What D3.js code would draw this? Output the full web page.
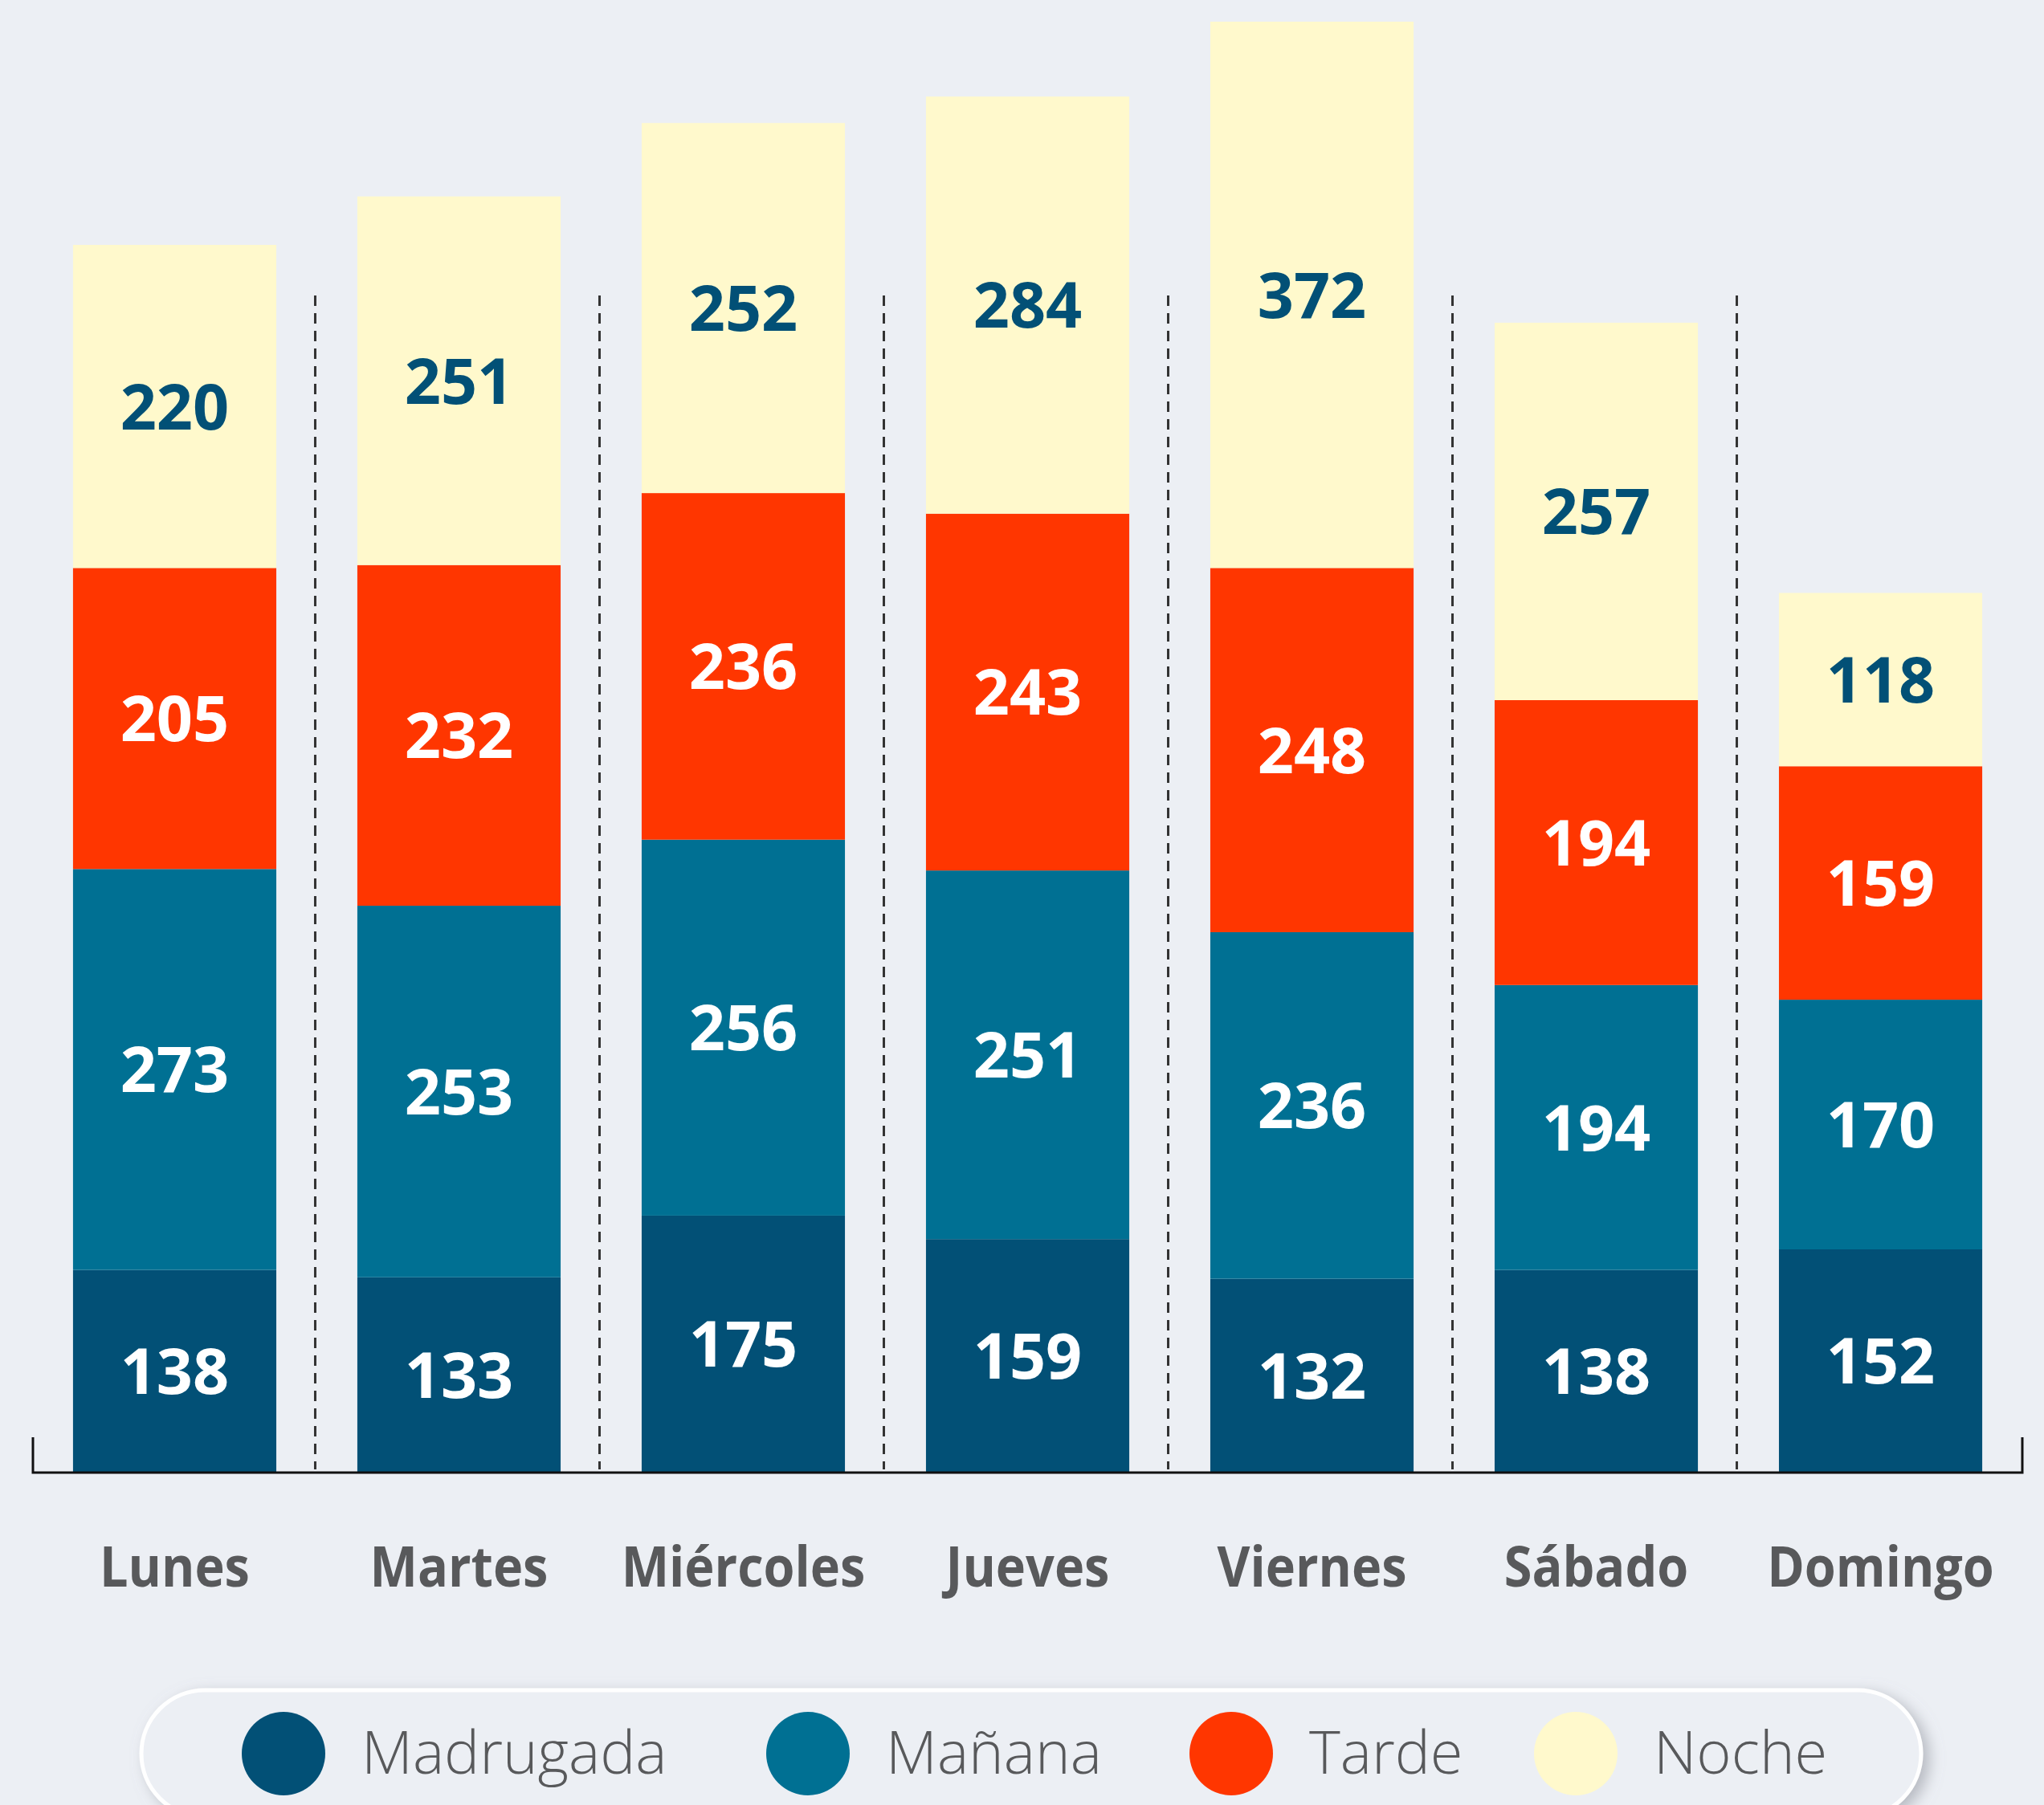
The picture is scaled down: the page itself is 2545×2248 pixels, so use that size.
<!DOCTYPE html>
<html lang="es">
<head>
    <meta charset="UTF-8">
    <title>Incidencias por día y franja horaria</title>
    <script src="https://d3js.org/d3.v7.min.js"></script>
    <style>
        body { margin: 0; background: #eceff4; }
        svg { display: block; font-family: "Open Sans", "Noto Sans", sans-serif; }
        .day { fill: #58595b; font-weight: 700; font-size: 70px; }
        .val { font-weight: 700; font-size: 79px; }
        .leg { fill: #58595b; font-weight: 300; font-size: 74px; }
    </style>
</head>
<body>
<svg width="2545" height="2248">
    <defs>
        <filter id="shadow" x="-10%" y="-50%" width="120%" height="200%">
            <feDropShadow dx="8" dy="6" stdDeviation="9" flood-color="#8a8f99" flood-opacity="0.55"/>
        </filter>
    </defs>
    <g id="guides"></g>
    <g id="bars"></g>
    <g id="labels"></g>
    <g id="axis"></g>
    <g id="legend"></g>
</svg>
<script>
    const days = ["Lunes", "Martes", "Miércoles", "Jueves", "Viernes", "Sábado", "Domingo"];
    const series = ["Madrugada", "Mañana", "Tarde", "Noche"];
    const madrugada = [138, 133, 175, 159, 132, 138, 152];
    const manana = [273, 253, 256, 251, 236, 194, 170];
    const tarde = [205, 232, 236, 243, 248, 194, 159];
    const noche = [220, 251, 252, 284, 372, 257, 118];
    const colors = ["#025076", "#007093", "#ff3600", "#fff9cc"];
    const textColors = ["#ffffff", "#ffffff", "#ffffff", "#025076"];

    // rows for d3.stack
    let rows = days.map((d, i) => ({
        day: d,
        Madrugada: madrugada[i],
        "Mañana": manana[i],
        Tarde: tarde[i],
        Noche: noche[i]
    }));

    let stacked = d3.stack().keys(series)(rows);

    let x = d3.scaleBand()
        .domain(days)
        .range([41, 2518])
        .paddingInner(0.285)
        .paddingOuter(0.141);

    let y = d3.scaleLinear()
        .domain([0, 988])
        .range([1834, 27]);

    let color = d3.scaleOrdinal().domain(series).range(colors);
    let textColor = d3.scaleOrdinal().domain(series).range(textColors);

    // dashed separators between days
    let gaps = days.slice(1).map((d, i) => (x(days[i]) + x.bandwidth() + x(d)) / 2 - 2);
    d3.select("#guides").selectAll("line")
        .data(gaps)
        .join("line")
        .attr("x1", d => d).attr("x2", d => d)
        .attr("y1", 368).attr("y2", 1830)
        .attr("stroke", "#333")
        .attr("stroke-width", 3)
        .attr("stroke-dasharray", "13 9");

    // stacked bars
    d3.select("#bars").selectAll("g")
        .data(stacked)
        .join("g")
        .attr("fill", s => color(s.key))
        .selectAll("rect")
        .data(s => s)
        .join("rect")
        .attr("x", d => x(d.data.day))
        .attr("width", x.bandwidth())
        .attr("y", d => y(d[1]))
        .attr("height", d => y(d[0]) - y(d[1]));

    // values inside segments
    d3.select("#labels").selectAll("g")
        .data(stacked)
        .join("g")
        .attr("fill", s => textColor(s.key))
        .selectAll("text")
        .data(s => s)
        .join("text")
        .attr("class", "val")
        .attr("x", d => x(d.data.day) + x.bandwidth() / 2)
        .attr("y", d => (y(d[0]) + y(d[1])) / 2)
        .attr("dy", "0.36em")
        .attr("text-anchor", "middle")
        .text(d => d[1] - d[0]);

    // axis
    let axis = d3.select("#axis");
    axis.append("path")
        .attr("d", d3.line()([[41, 1790], [41, 1834], [2518, 1834], [2518, 1790]]))
        .attr("fill", "none")
        .attr("stroke", "#111")
        .attr("stroke-width", 3);

    // day names, a bit narrower than the stock bold face
    axis.selectAll("text")
        .data(days)
        .join("text")
        .attr("class", "day")
        .attr("transform", d => `translate(${x(d) + x.bandwidth() / 2},1976) scale(0.9,1)`)
        .attr("text-anchor", "middle")
        .text(d => d);

    // legend
    let legend = d3.select("#legend");
    legend.append("rect")
        .attr("x", 176).attr("y", 2105)
        .attr("width", 2216).attr("height", 158)
        .attr("rx", 79).attr("ry", 79)
        .attr("fill", "#eceff4")
        .attr("stroke", "#ffffff")
        .attr("stroke-width", 5)
        .attr("filter", "url(#shadow)");

    let legX = [353, 1006, 1533, 1962];
    let item = legend.selectAll("g")
        .data(series)
        .join("g")
        .attr("transform", (d, i) => `translate(${legX[i]},2184)`);
    item.append("circle")
        .attr("r", 52)
        .attr("fill", d => color(d));
    item.append("text")
        .attr("class", "leg")
        .attr("x", 97)
        .attr("y", 25)
        .text(d => d);
</script>
</body>
</html>
